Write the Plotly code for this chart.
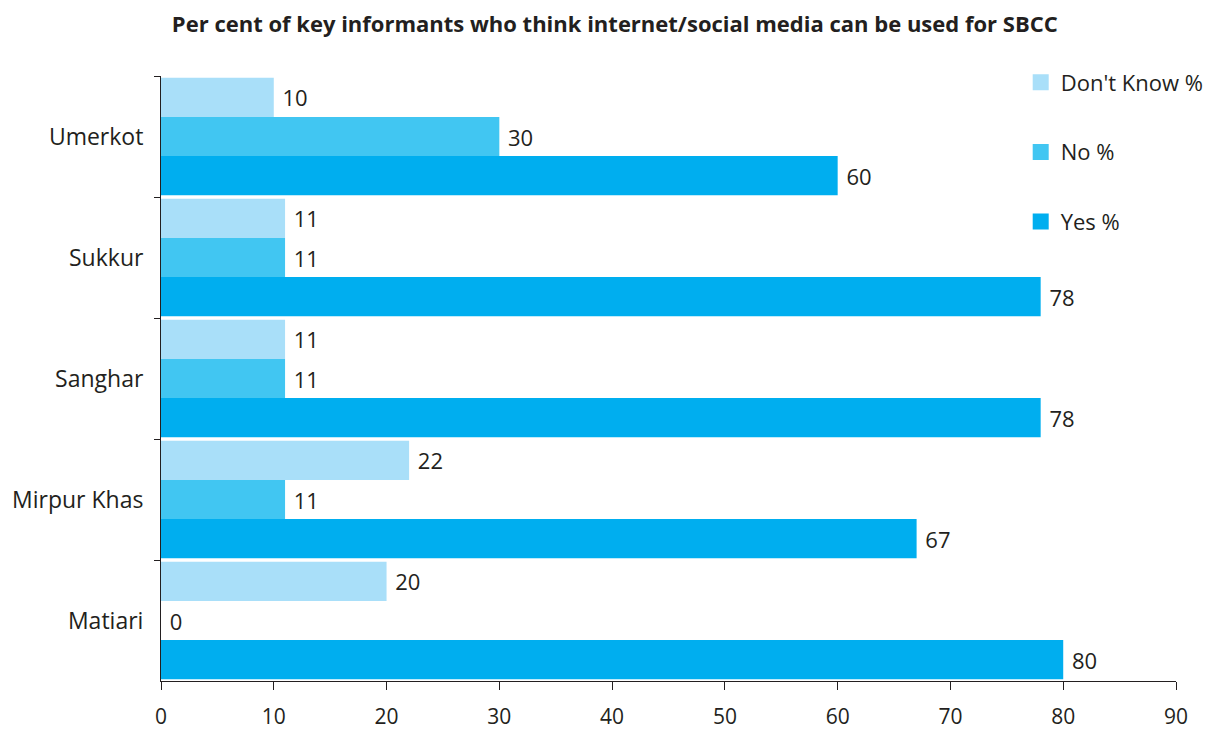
import plotly.graph_objects as go

districts = ["Umerkot", "Sukkur", "Sanghar", "Mirpur Khas", "Matiari"]
dont_know = [10, 11, 11, 22, 20]
no_pct = [30, 11, 11, 11, 0]
yes_pct = [60, 78, 78, 67, 80]
x_ticks = [0, 10, 20, 30, 40, 50, 60, 70, 80, 90]

series = [
    ("Don't Know %", dont_know, "#A9DFF9"),
    ("No %", no_pct, "#41C6F2"),
    ("Yes %", yes_pct, "#00AEEF"),
]

font_fam = "Open Sans, Noto Sans, sans-serif"
fig = go.Figure()
for i, (name, vals, col) in enumerate(series):
    fig.add_trace(go.Bar(
        y=districts, x=vals, name=name, orientation="h",
        marker=dict(color=col, line=dict(width=0)),
        text=vals, texttemplate=" %{x}", textposition="outside",
        textfont=dict(size=22, color="#231F20", family=font_fam),
        cliponaxis=False, showlegend=False,
    ))
for i, (name, vals, col) in enumerate(series):
    fig.add_trace(go.Scatter(
        x=[None], y=[None], mode="markers", name=name,
        marker=dict(symbol="square", size=20, color=col),
        legendgroup=f"g{i}", showlegend=True,
    ))

fig.update_layout(
    width=1215, height=732,
    margin=dict(l=161, r=39, t=76, b=51, autoexpand=False),
    paper_bgcolor="white", plot_bgcolor="white",
    barmode="group", bargap=0.03, bargroupgap=0,
    title=dict(text="<b>Per cent of key informants who think internet/social media can be used for SBCC</b>",
               x=0.506, xref="container", xanchor="center", y=0.978, yanchor="top",
               font=dict(size=22, color="#231F20", family=font_fam)),
    font=dict(family=font_fam, color="#231F20", size=22),
    legend=dict(x=0.847, y=1.024, xanchor="left", yanchor="top",
                traceorder="grouped", tracegroupgap=38, itemwidth=30,
                font=dict(size=22, color="#231F20"), bgcolor="rgba(0,0,0,0)"),
    showlegend=True,
)
fig.update_xaxes(range=[0, 90], tickvals=x_ticks, showgrid=False, zeroline=False,
                 showline=True, linecolor="#231F20", linewidth=1,
                 ticks="outside", ticklen=8, tickcolor="#231F20",
                 tickfont=dict(size=21), ticklabelstandoff=9, automargin=False)
fig.update_yaxes(autorange="reversed", showgrid=False, showline=True,
                 linecolor="#231F20", linewidth=1, ticks="outside", ticklen=6,
                 tickcolor="#231F20", tickson="boundaries",
                 tickfont=dict(size=23), ticklabelstandoff=12, automargin=False)
fig.write_html("out.html")
